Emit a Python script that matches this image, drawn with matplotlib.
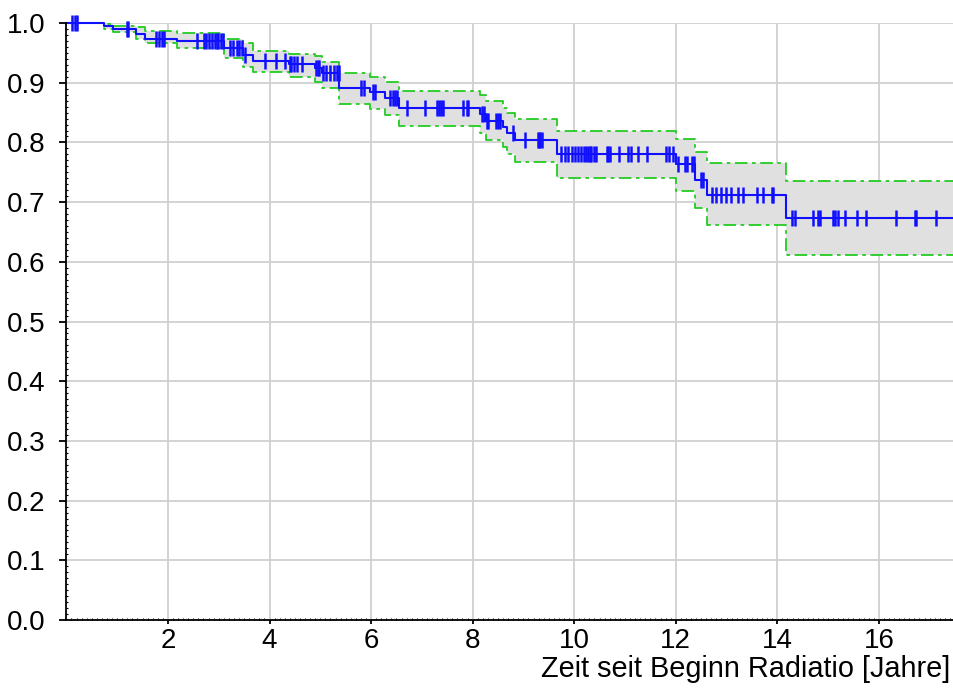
import numpy as np
import matplotlib
matplotlib.use('Agg')
import matplotlib.pyplot as plt
from matplotlib.ticker import MultipleLocator

plt.rcParams['font.family'] = ['Liberation Sans', 'DejaVu Sans']

# Kaplan-Meier Schaetzung
event_t = [0.74, 0.91, 1.37, 1.55, 2.17, 3.11, 3.48, 3.67, 4.38, 4.89, 5.03, 5.37, 5.98,
           6.27, 6.55, 8.14, 8.26, 8.60, 8.68, 8.83, 9.67, 12.00, 12.38, 12.61, 14.17]
surv = [0.995, 0.990, 0.982, 0.974, 0.970, 0.958, 0.946, 0.936, 0.931, 0.924, 0.916, 0.892, 0.885,
        0.874, 0.857, 0.848, 0.836, 0.826, 0.816, 0.804, 0.781, 0.764, 0.737, 0.712, 0.674]
upper = [0.998, 0.995, 0.993, 0.987, 0.984, 0.973, 0.967, 0.953, 0.948, 0.945, 0.935, 0.917, 0.910,
         0.901, 0.886, 0.879, 0.870, 0.857, 0.850, 0.840, 0.820, 0.805, 0.784, 0.765, 0.735]
lower = [0.990, 0.985, 0.974, 0.966, 0.958, 0.941, 0.927, 0.918, 0.910, 0.902, 0.892, 0.865, 0.856,
         0.846, 0.828, 0.815, 0.804, 0.792, 0.781, 0.768, 0.741, 0.719, 0.690, 0.661, 0.611]

# zensierte Beobachtungen
cens_t = [0.12, 0.16, 0.20, 1.19, 1.22, 1.76, 1.82, 1.88, 1.92, 2.57, 2.71, 2.75, 2.81, 2.87,
          2.93, 2.97, 2.99, 3.04, 3.08, 3.22, 3.28, 3.35, 3.39, 3.45, 3.52, 3.91, 4.13, 4.30,
          4.40, 4.43, 4.48, 4.55, 4.63, 4.91, 4.95, 4.98, 5.06, 5.11, 5.19, 5.27, 5.32, 5.36,
          5.81, 5.86, 6.04, 6.08, 6.37, 6.43, 6.47, 6.52, 6.71, 7.06, 7.30, 7.34, 7.38, 7.41,
          7.81, 7.88, 7.91, 8.18, 8.22, 8.28, 8.31, 8.47, 8.50, 8.54, 8.80, 9.03, 9.28, 9.31,
          9.33, 9.36, 9.75, 9.82, 9.88, 9.95, 10.01, 10.08, 10.13, 10.19, 10.23, 10.28, 10.31,
          10.34, 10.39, 10.43, 10.64, 10.67, 10.70, 10.89, 11.06, 11.11, 11.26, 11.44, 11.81,
          11.87, 11.95, 12.05, 12.18, 12.22, 12.33, 12.36, 12.49, 12.54, 12.71, 12.80, 12.90,
          12.99, 13.09, 13.23, 13.32, 13.61, 13.72, 13.89, 13.92, 14.28, 14.35, 14.70, 14.80,
          14.84, 15.10, 15.13, 15.20, 15.33, 15.56, 15.74, 16.33, 16.71, 16.74, 17.12]

x_max = 17.48
x_ticks = [2, 4, 6, 8, 10, 12, 14, 16]
xlabel = 'Zeit seit Beginn Radiatio [Jahre]'

t = np.array([0.0] + event_t + [x_max])
s = np.array([1.0] + surv + [surv[-1]])
up = np.array([1.0] + upper + [upper[-1]])
lo = np.array([1.0] + lower + [lower[-1]])

s_steps = np.array([1.0] + surv)
cens_s = s_steps[np.searchsorted(event_t, cens_t, side='right')]

fig = plt.figure(figsize=(9.54, 6.88), dpi=100)
ax = fig.add_axes([0.0696, 0.0988, 0.9304, 0.8677])

ax.fill_between(t, lo, up, step='post', color='#e0e0e0', lw=0, zorder=2)
ax.plot(t, up, drawstyle='steps-post', color='#22cc22', lw=1.3,
        linestyle=(0, (7, 2.5, 2, 2.5)), zorder=3)
ax.plot(t, lo, drawstyle='steps-post', color='#22cc22', lw=1.3,
        linestyle=(0, (7, 2.5, 2, 2.5)), zorder=3)
ax.plot(t, s, drawstyle='steps-post', color='#1010ff', lw=1.5, zorder=4, clip_on=False)
ax.plot(cens_t, cens_s, linestyle='none', marker='|', markersize=11, mew=1.8,
        color='#1010ff', zorder=5, clip_on=False)

ax.set_xlim(0, x_max)
ax.set_ylim(0, 1.0)
ax.set_xticks(x_ticks)
ax.yaxis.set_major_locator(MultipleLocator(0.1))
ax.yaxis.set_major_formatter(matplotlib.ticker.FormatStrFormatter('%.1f'))
ax.xaxis.set_minor_locator(MultipleLocator(0.1))
ax.yaxis.set_minor_locator(MultipleLocator(0.01))

ax.grid(True, which='major', color='#d0d0d0', lw=1.3, zorder=0)
ax.set_axisbelow(True)
for side in ['top', 'right']:
    ax.spines[side].set_visible(False)
for side in ['left', 'bottom']:
    ax.spines[side].set_linewidth(1.3)
    ax.spines[side].set_zorder(6)

ax.tick_params(axis='both', which='major', labelsize=20, direction='out', width=1.3)
ax.tick_params(axis='y', which='major', length=5, pad=10)
ax.tick_params(axis='x', which='major', length=3, pad=3)
ax.tick_params(axis='both', which='minor', direction='in', length=1.5, width=0.8)

fig.text(0.996, 0.027, xlabel, ha='right', va='center', fontsize=20.8)

fig.savefig('out.png', dpi=100)
